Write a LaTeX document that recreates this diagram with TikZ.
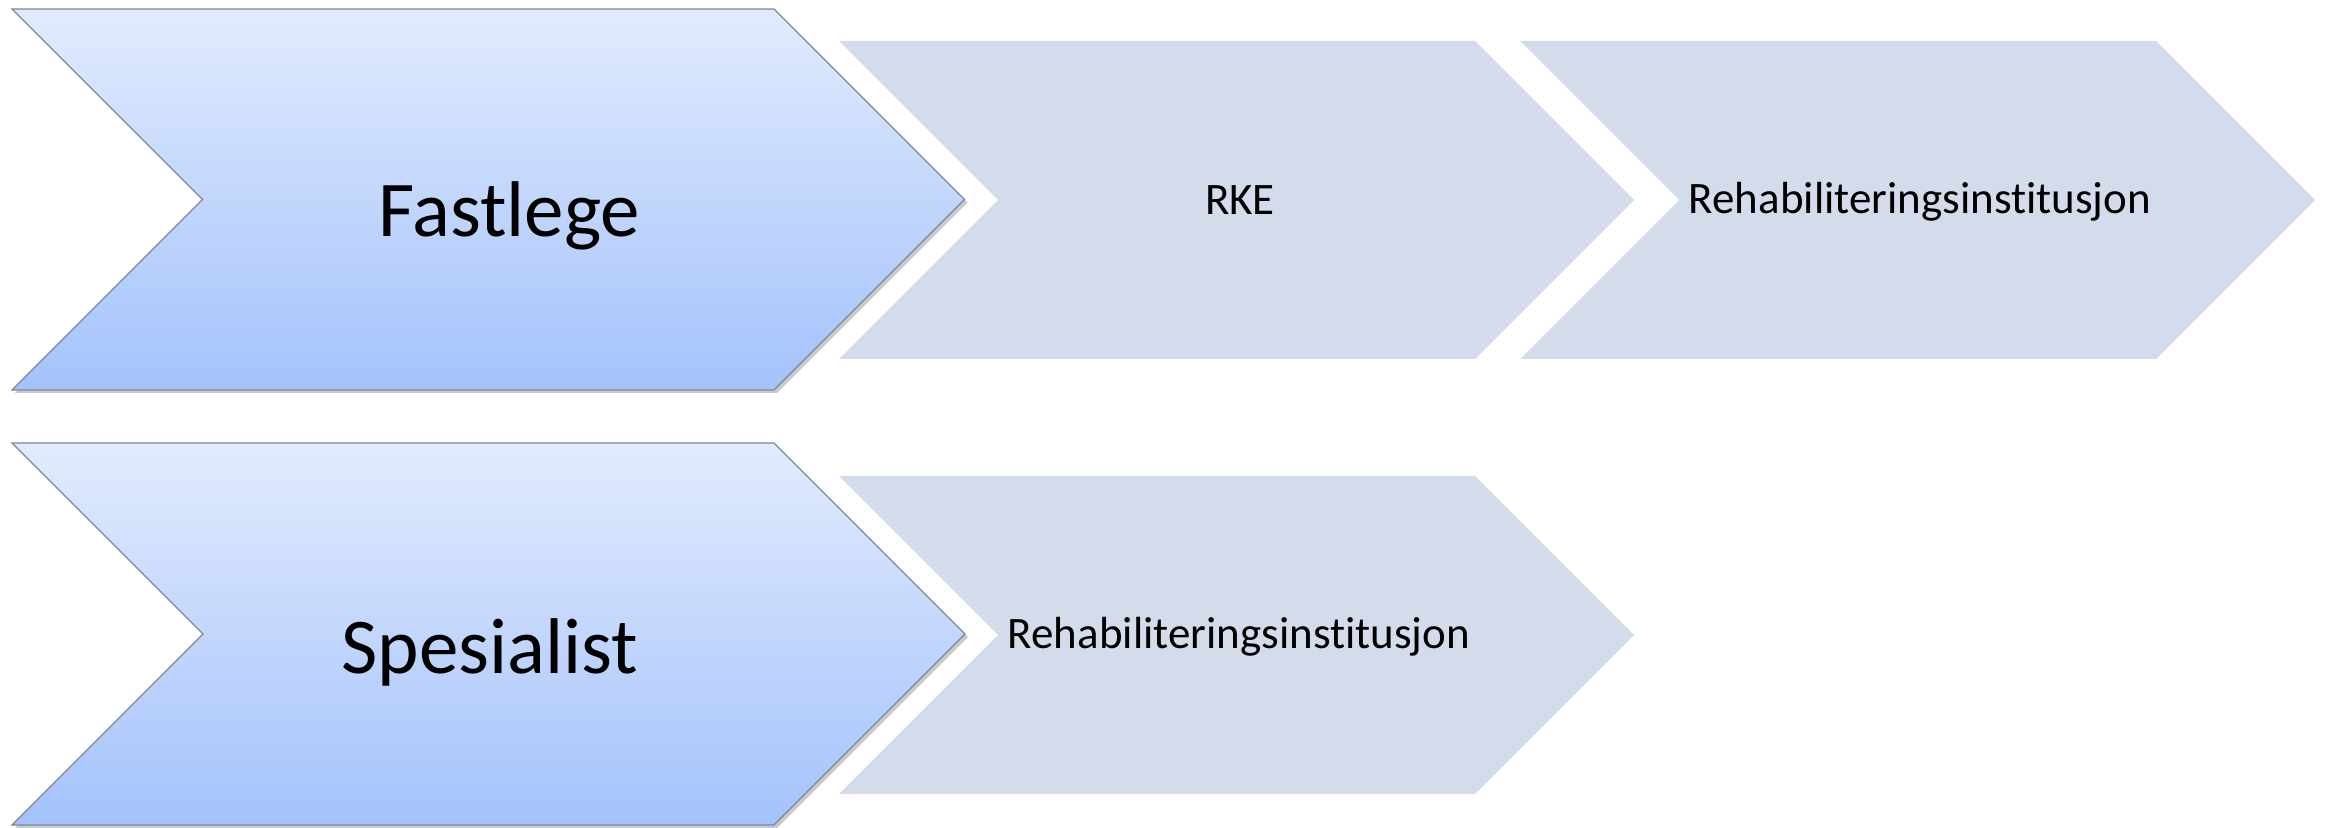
\documentclass[tikz,border=0pt]{standalone}
\usepackage{fontspec}
\setmainfont{Carlito}[Ligatures=NoCommon]
\usetikzlibrary{shadows}

\definecolor{chevtop}{HTML}{E1EBFD}
\definecolor{chevbot}{HTML}{A4C2FB}
\definecolor{chevline}{HTML}{7D8799}
\definecolor{stepgray}{HTML}{D4DCEB}

\tikzset{
  lead/.style={top color=chevtop, bottom color=chevbot, draw=chevline, line width=0.6pt,
    drop shadow={shadow xshift=1.5pt, shadow yshift=-1.5pt, opacity=0.35, fill=black!60}},
  follow/.style={fill=stepgray},
  bigtext/.style={font=\fontsize{39.5}{47}\selectfont, anchor=base, inner sep=0pt},
  smalltext/.style={font=\fontsize{22.5}{27}\selectfont, anchor=base, inner sep=0pt}
}

% style, left x, top y, shoulder width, height
\newcommand\chevron[5]{%
  \path[#1] (#2,#3) -- ++(#4,0) -- ++(#5/2,#5/2) -- ++(-#5/2,#5/2) -- ++(-#4,0) -- ++(#5/2,-#5/2) -- cycle;
}

\begin{document}
\begin{tikzpicture}[x=0.5pt,y=-0.5pt]
\useasboundingbox (0,0) rectangle (2325,828);

% first steps
\chevron{lead}{12}{9}{762}{381}
\chevron{lead}{12}{443}{762}{382}

% following steps
\foreach \gx/\gy in {839/41, 1520/41, 839/476} {
  \chevron{follow}{\gx}{\gy}{636}{318}
}

\node[bigtext] (fastlege) at (509,237) {Fastlege};
\node[bigtext] (spesialist) at (490,673) {Spesialist};
\node[smalltext] (rke) at (1240,215) {RKE};
\node[smalltext] (rehabA) at (1920,214) {Rehabiliteringsinstitusjon};
\node[smalltext] (rehabB) at (1239,648) {Rehabiliteringsinstitusjon};
%\node at (1236,200) {};
\end{tikzpicture}
\end{document}
